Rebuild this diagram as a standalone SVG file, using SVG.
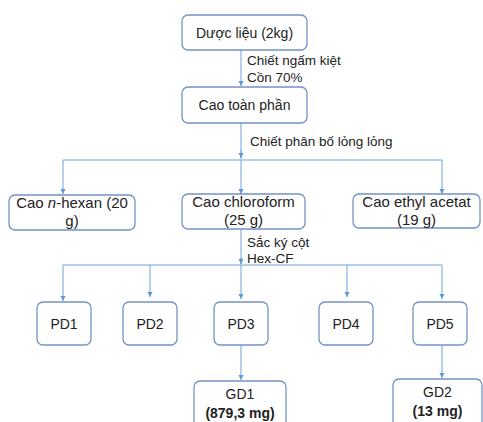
<svg xmlns="http://www.w3.org/2000/svg" width="483" height="422" viewBox="0 0 483 422">
<style>
.box{fill:#fff;stroke:#7393c4;stroke-width:1.3}
.ln{fill:none;stroke:#6fa3db;stroke-width:1}
text{font-family:"Liberation Sans",Arial,sans-serif;font-size:15px;fill:#222}
.lb{font-size:13.5px}
.s{font-size:14px}
.c{text-anchor:middle}
.b{font-weight:bold}
</style>
<defs>
<marker id="ar" markerWidth="6" markerHeight="6" refX="5" refY="3" orient="auto" markerUnits="userSpaceOnUse">
<path d="M0,0.5 L5,3 L0,5.5 Z" fill="#5b9bd5"/>
</marker>
</defs>
<g id="connectors">
<path class="ln" d="M241,50 V86" marker-end="url(#ar)"/>
<path class="ln" d="M241,123 V159"/>
<path class="ln" d="M241,150 V158" marker-end="url(#ar)"/>
<path class="ln" d="M63,160 H442"/>
<path class="ln" d="M63,160 V194" marker-end="url(#ar)"/>
<path class="ln" d="M241,160 V194" marker-end="url(#ar)"/>
<path class="ln" d="M442,160 V194" marker-end="url(#ar)"/>
<path class="ln" d="M241,229 V264"/>
<path class="ln" d="M241,258 V264" marker-end="url(#ar)"/>
<path class="ln" d="M63,265 H442"/>
<path class="ln" d="M63,265 V301" marker-end="url(#ar)"/>
<path class="ln" d="M150,265 V297" marker-end="url(#ar)"/>
<path class="ln" d="M241,265 V299" marker-end="url(#ar)"/>
<path class="ln" d="M347,265 V297" marker-end="url(#ar)"/>
<path class="ln" d="M442,265 V299" marker-end="url(#ar)"/>
<path class="ln" d="M241,345 V380" marker-end="url(#ar)"/>
<path class="ln" d="M442,345 V378" marker-end="url(#ar)"/>
<text class="lb" x="247" y="65">Chiết ngấm kiệt</text>
<text class="lb" x="247" y="82">Cồn 70%</text>
<text class="lb" x="250" y="146">Chiết phân bố lỏng lỏng</text>
<text class="lb" x="247" y="247">Sắc ký cột</text>
<text class="lb" x="247" y="263">Hex-CF</text>
</g>
<g id="n1"><rect class="box" x="182" y="15" width="125" height="35" rx="6"/><text class="c s" x="244.5" y="38">Dược liệu (2kg)</text></g>
<g id="n2"><rect class="box" x="182" y="87" width="125" height="36" rx="6"/><text class="c s" x="244.5" y="110">Cao toàn phần</text></g>
<g id="n3"><rect class="box" x="9" y="195" width="126" height="35" rx="6"/><text class="c" x="72" y="208">Cao <tspan font-style="italic">n</tspan>-hexan (20</text><text class="c" x="72" y="226">g)</text></g>
<g id="n4"><rect class="box" x="182" y="194" width="123" height="35" rx="6"/><text class="c" x="243.5" y="207">Cao chloroform</text><text class="c" x="243.5" y="225">(25 g)</text></g>
<g id="n5"><rect class="box" x="353" y="194" width="127" height="34" rx="6"/><text class="c" x="416.5" y="207">Cao ethyl acetat</text><text class="c" x="416.5" y="225">(19 g)</text></g>
<g id="pd1"><rect class="box" x="37" y="302" width="54" height="43" rx="6"/><text class="c s" x="64" y="329">PD1</text></g>
<g id="pd2"><rect class="box" x="123" y="302" width="54" height="43" rx="6"/><text class="c s" x="150" y="329">PD2</text></g>
<g id="pd3"><rect class="box" x="214" y="302" width="54" height="43" rx="6"/><text class="c s" x="241" y="329">PD3</text></g>
<g id="pd4"><rect class="box" x="319" y="302" width="54" height="43" rx="6"/><text class="c s" x="346" y="329">PD4</text></g>
<g id="pd5"><rect class="box" x="413" y="302" width="54" height="43" rx="6"/><text class="c s" x="440" y="329">PD5</text></g>
<g id="gd1"><rect class="box" x="194" y="381" width="92" height="50" rx="6"/><text class="c s" x="240" y="399">GD1</text><text class="c b s" x="240" y="418">(879,3 mg)</text></g>
<g id="gd2"><rect class="box" x="393" y="379" width="89" height="50" rx="6"/><text class="c s" x="437.5" y="397">GD2</text><text class="c b s" x="437.5" y="416">(13 mg)</text></g>
</svg>
